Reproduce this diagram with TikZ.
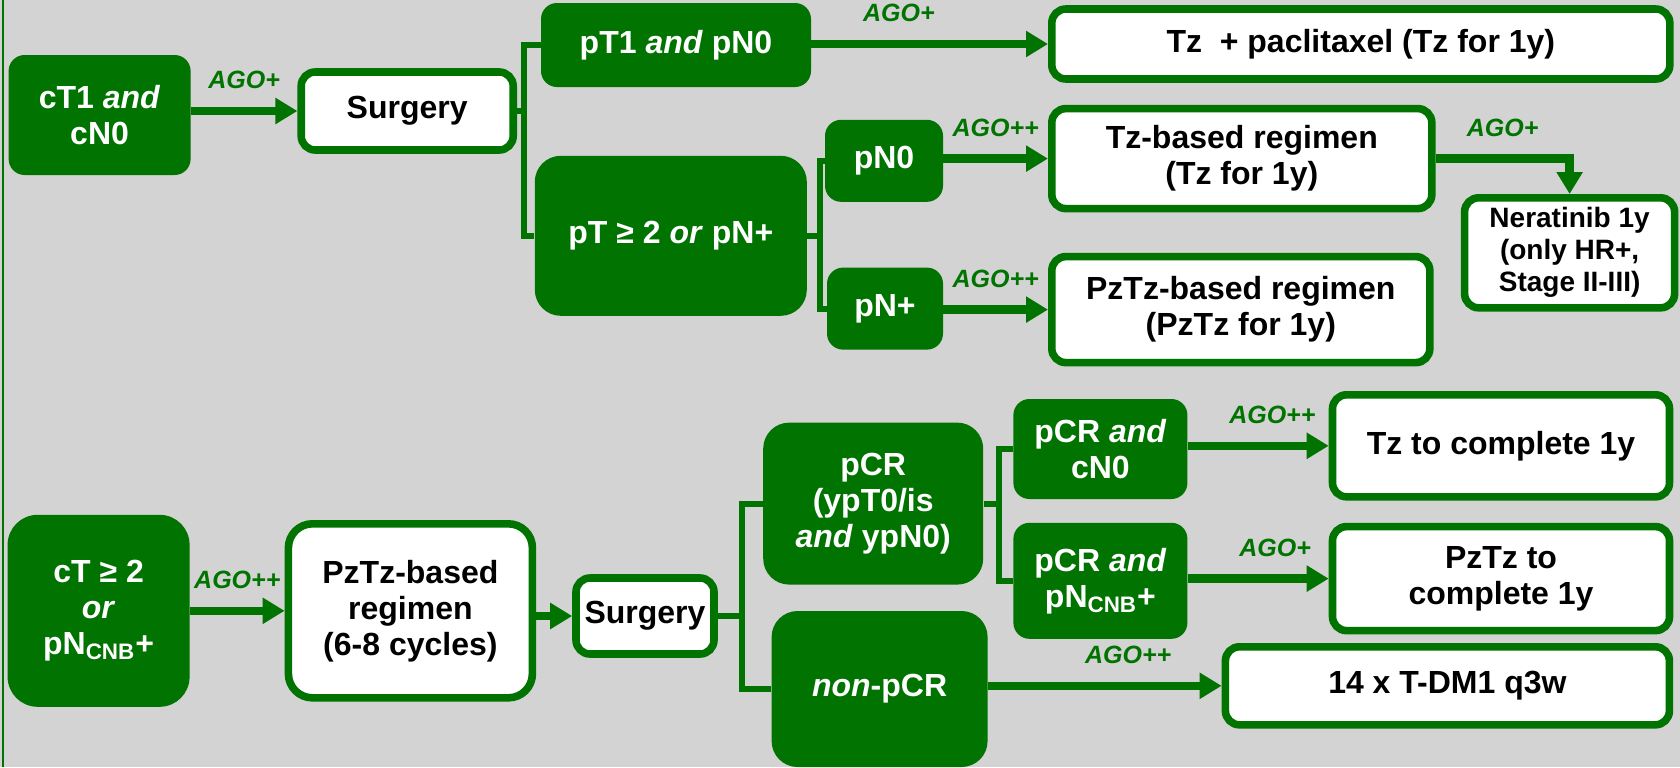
\documentclass[tikz,border=0pt]{standalone}
\usepackage{fontspec}
\setmainfont{Liberation Sans}
\usetikzlibrary{arrows.meta}

\definecolor{agogreen}{RGB}{0,115,0}
\definecolor{slidegray}{RGB}{211,211,211}

\def\gradedEdges{ct1/surg1/AGO+/0.5, pt1/tzpac/AGO+/0.37, pn0/tzreg/AGO++/0.5, pnp/pztz/AGO++/0.5, ct2/pzreg/AGO++/0.5, pcrc/tzc/AGO++/0.6, pcrp/pztzc/AGO+/0.62, npcr/tdm/AGO++/0.6}

\tikzstyle{group}=[rounded corners=8pt, fill=agogreen, text=white, align=center, inner sep=0pt, font=\fontsize{16}{18}\selectfont\bfseries]
\tikzstyle{therapy}=[rounded corners=7pt, draw=agogreen, line width=3.8pt, fill=white, text=black, align=center, inner sep=0pt, font=\fontsize{16}{18}\selectfont\bfseries]
\tikzstyle{edge}=[draw, agogreen, line width=4.3pt, -{Triangle[length=11pt,width=12.5pt]}]
\tikzstyle{branch}=[draw, agogreen, line width=3pt]
\tikzstyle{ago}=[text=agogreen, inner sep=0pt, above=9pt, font=\fontsize{12.5}{14}\selectfont\bfseries\itshape]

\begin{document}
\begin{tikzpicture}[x=1pt, y=-1pt]
  \useasboundingbox[fill=slidegray] (0,0) rectangle (840,383.6);
  \draw[agogreen, line width=1.2pt] (1.6,0) -- (1.6,383.6);

  % Upfront surgery
  \node[group, minimum width=91pt, minimum height=60pt] (ct1) at (49.8,57.5) {cT1 \textit{and}\\cN0};
  \node[therapy, minimum width=106pt, minimum height=39pt] (surg1) at (203.6,55.5) {Surgery};
  \node[group, minimum width=135pt, minimum height=42pt] (pt1) at (338,22.5) {pT1 \textit{and} pN0};
  \node[group, minimum width=136pt, minimum height=80pt, rounded corners=13pt] (pt2) at (335.4,117.9) {pT ≥ 2 \textit{or} pN+};
  \node[group, minimum width=59pt, minimum height=41pt] (pn0) at (442,80.4) {pN0};
  \node[group, minimum width=58pt, minimum height=41pt] (pnp) at (442.5,154.3) {pN+};
  \node[therapy, minimum width=309pt, minimum height=35pt] (tzpac) at (680.4,22) {Tz\ \ + paclitaxel (Tz for 1y)};
  \node[therapy, minimum width=190pt, minimum height=50pt] (tzreg) at (620.9,79.3) {Tz-based regimen\\(Tz for 1y)};
  \node[therapy, minimum width=189pt, minimum height=53pt] (pztz) at (620.4,154.8) {PzTz-based regimen\\(PzTz for 1y)};
  \node[therapy, minimum width=105pt, minimum height=55pt, font=\fontsize{14}{16}\selectfont\bfseries] (nera) at (784.8,126.4) {Neratinib 1y\\(only HR+,\\Stage II-III)};

  % Neoadjuvant therapy first
  \node[group, minimum width=91pt, minimum height=96pt, rounded corners=15pt] (ct2) at (49.3,305.4) {cT ≥ 2\\\textit{or}\\pN\textsubscript{CNB}+};
  \node[therapy, minimum width=122pt, minimum height=87pt, rounded corners=12pt] (pzreg) at (205.2,305.4) {PzTz-based\\regimen\\(6-8 cycles)};
  \node[therapy, minimum width=69pt, minimum height=38pt] (surg2) at (322.5,308) {Surgery};
  \node[group, minimum width=110pt, minimum height=81pt, rounded corners=13pt] (pcr) at (436.6,251.8) {pCR\\(ypT0/is\\\textit{and} ypN0)};
  \node[group, minimum width=108pt, minimum height=78pt, rounded corners=13pt] (npcr) at (439.8,344.5) {\textit{non}-pCR};
  \node[group, minimum width=87pt, minimum height=50pt] (pcrc) at (550.2,224.5) {pCR \textit{and}\\cN0};
  \node[group, minimum width=87pt, minimum height=58pt] (pcrp) at (550.2,290.4) {pCR \textit{and}\\pN\textsubscript{CNB}+};
  \node[therapy, minimum width=168.5pt, minimum height=51pt] (tzc) at (750.5,222.9) {Tz to complete 1y};
  \node[therapy, minimum width=168.5pt, minimum height=52pt] (pztzc) at (750.5,289.3) {PzTz to\\complete 1y};
  \node[therapy, minimum width=222pt, minimum height=39pt] (tdm) at (723.7,342.9) {14 x T-DM1 q3w};

  % Branch points
  \coordinate (b1) at (262,55.5);
  \coordinate (b2) at (409.8,117.9);
  \coordinate (b3) at (371.2,308);
  \coordinate (b4) at (499.3,251.8);

  \path[branch] (surg1.east) -- (b1);
  \path[branch] (pt1.west) -| (b1) |- (pt2.west);
  \path[branch] (pt2.east) -- (b2);
  \path[branch] (pn0.west) -| (b2) |- (pnp.west);
  \path[branch] (surg2.east) -- (b3);
  \path[branch] (pcr.west) -| (b3) |- (npcr.west);
  \path[branch] (pcr.east) -- (b4);
  \path[branch] (pcrc.west) -| (b4) |- (pcrp.west);

  % Graded recommendations
  \foreach \source/\dest/\grade/\where in \gradedEdges
    \path[edge] (\source.east |- \dest.west) -- node[ago, pos=\where] {\grade} (\dest.west);

  \path[edge] (tzreg.east) -| node[ago, pos=0.25] {AGO+} (nera.north);
  \path[edge] (pzreg.east |- surg2.west) -- (surg2.west);
\end{tikzpicture}
\end{document}
